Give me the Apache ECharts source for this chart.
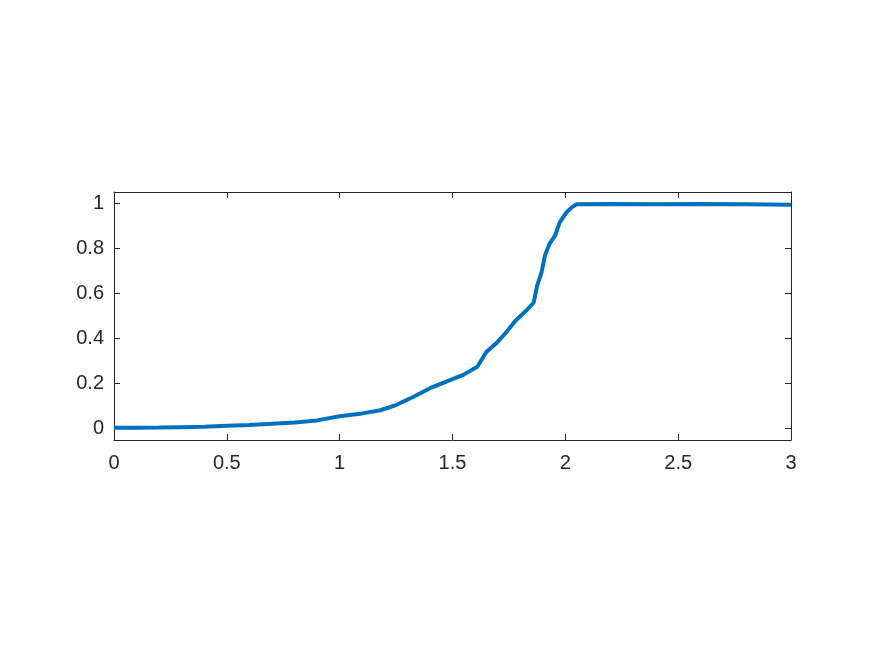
<!DOCTYPE html>
<html>
<head>
<meta charset="utf-8">
<script src="https://cdn.jsdelivr.net/npm/echarts@6/dist/echarts.min.js"></script>
<style>html,body{margin:0;padding:0;background:#fff;}#c{width:875px;height:656px;}</style>
</head>
<body>
<div id="c"></div>
<script>
var xValues = [0, 0.1, 0.2, 0.3, 0.4, 0.5, 0.6, 0.7, 0.8, 0.9, 1.0, 1.1, 1.18, 1.25, 1.33, 1.40, 1.47, 1.55, 1.61, 1.65, 1.70, 1.74, 1.78, 1.83, 1.86, 1.875, 1.895, 1.91, 1.93, 1.955, 1.975, 2.005, 2.03, 2.05, 2.2, 2.4, 2.6, 2.8, 3.0];
var yValues = [0.004, 0.004, 0.005, 0.007, 0.009, 0.013, 0.017, 0.022, 0.028, 0.037, 0.055, 0.068, 0.082, 0.105, 0.143, 0.180, 0.208, 0.240, 0.275, 0.34, 0.385, 0.43, 0.48, 0.527, 0.56, 0.635, 0.695, 0.77, 0.82, 0.858, 0.915, 0.96, 0.983, 0.996, 0.997, 0.996, 0.997, 0.996, 0.994];
var yTicks = [0, 0.2, 0.4, 0.6, 0.8, 1];

var data = xValues.map(function (x, i) { return [x, yValues[i]]; });
var axisColor = '#262626';
var font = 'Liberation Sans, Arial, Helvetica, sans-serif';

var chart = echarts.init(document.getElementById('c'));
chart.setOption({
  animation: false,
  backgroundColor: '#ffffff',
  grid: { left: 114, right: 84, top: 192, bottom: 216, containLabel: false },
  xAxis: [
    { type: 'value', position: 'bottom', min: 0, max: 3, interval: 0.5,
      axisLine: { show: true, onZero: false, lineStyle: { color: axisColor, width: 1 } },
      axisTick: { show: true, inside: true, length: 6, lineStyle: { color: axisColor } },
      axisLabel: { color: axisColor, fontSize: 20, fontFamily: font, margin: 13 },
      splitLine: { show: false } },
    { type: 'value', position: 'top', min: 0, max: 3, interval: 0.5,
      axisLine: { show: true, onZero: false, lineStyle: { color: axisColor, width: 1 } },
      axisTick: { show: true, inside: true, length: 6, lineStyle: { color: axisColor } },
      axisLabel: { show: false },
      splitLine: { show: false } }
  ],
  yAxis: [
    { type: 'value', position: 'left', min: -0.05, max: 1.05,
      axisLine: { show: true, onZero: false, lineStyle: { color: axisColor, width: 1 } },
      axisTick: { show: true, inside: true, length: 6, customValues: yTicks, lineStyle: { color: axisColor } },
      axisLabel: { color: axisColor, fontSize: 20, fontFamily: font, margin: 10, customValues: yTicks },
      splitLine: { show: false } },
    { type: 'value', position: 'right', min: -0.05, max: 1.05,
      axisLine: { show: true, onZero: false, lineStyle: { color: axisColor, width: 1 } },
      axisTick: { show: true, inside: true, length: 6, customValues: yTicks, lineStyle: { color: axisColor } },
      axisLabel: { show: false, customValues: yTicks },
      splitLine: { show: false } }
  ],
  series: [{
    type: 'line',
    data: data,
    xAxisIndex: 0,
    yAxisIndex: 0,
    showSymbol: false,
    smooth: false,
    lineStyle: { color: '#0072BD', width: 4 },
    itemStyle: { color: '#0072BD' }
  }]
});
</script>
</body>
</html>
